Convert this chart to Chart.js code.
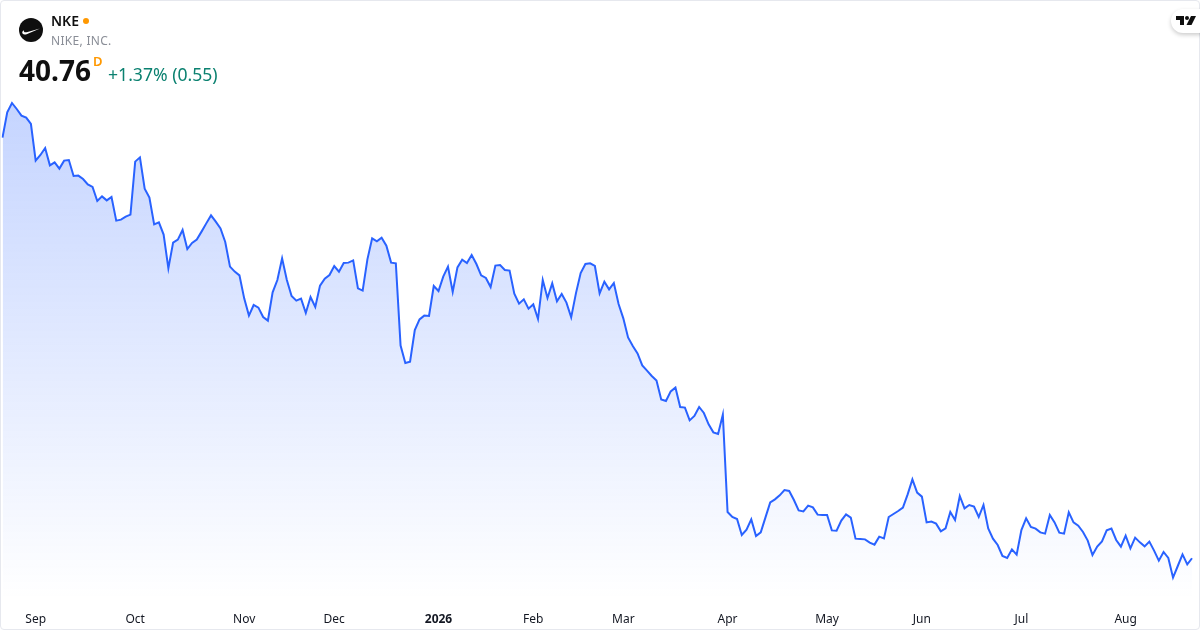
<!DOCTYPE html>
<html>
<head>
<meta charset="utf-8">
<title>NKE</title>
<script src="https://cdn.jsdelivr.net/npm/chart.js@4"></script>
<style>
  html, body { margin: 0; padding: 0; background: #fff; }
  body { width: 1200px; height: 630px; overflow: hidden; font-family: "Noto Sans", sans-serif; }
  #card { position: absolute; left: 0; top: 0; width: 1198px; height: 628px; border: 1px solid #e6e8ee; border-radius: 4px; overflow: hidden; }
  #wrap { position: absolute; left: -1px; top: -1px; width: 1200px; height: 630px; }
  .txt { position: absolute; white-space: nowrap; line-height: 1; }
  #logo { position: absolute; left: 19px; top: 18px; }
  #tv { position: absolute; left: 1171px; top: 9px; width: 40px; height: 24px; background: #fff; border-radius: 12px; box-shadow: 0 2px 4px rgba(0,0,0,.2); }
</style>
</head>
<body>
<div id="card">
  <div id="wrap"><canvas id="canvas" width="1200" height="630"></canvas></div>
</div>
<svg id="logo" width="24" height="24" viewBox="0 0 24 24">
  <circle cx="12" cy="12" r="12" fill="#0f0f0f"/>
  <path d="M3.2 14.6 C3.4 16.6 5.6 16.9 8.2 15.9 L21 10.6 L8.6 13.9 C6 14.6 4.4 14.3 5 12.2 C3.9 12.9 3.2 13.7 3.2 14.6 Z" fill="#fff"/>
</svg>
<div class="txt" style="left:51px;top:14px;font-size:14px;font-weight:600;color:#0f0f0f">NKE</div>
<div style="position:absolute;left:83px;top:18px;width:6px;height:6px;border-radius:3px;background:#ff9800"></div>
<div class="txt" style="left:51px;top:35px;font-size:12px;color:#8a8e97;letter-spacing:.3px">NIKE, INC.</div>
<div class="txt" style="left:19px;top:56px;font-size:28px;font-weight:700;color:#0f0f0f">40.76</div>
<div class="txt" style="left:93px;top:55px;font-size:13px;font-weight:600;color:#ff9800">D</div>
<div class="txt" style="left:108px;top:66px;font-size:17.6px;color:#0b8170">+1.37% (0.55)</div>
<div id="tv">
  <svg width="22" height="12" viewBox="0 0 22 12" style="position:absolute;left:5px;top:6px">
    <path d="M0 1 H8 V10 H4 V5 H0 Z" fill="#0f0f0f"/>
    <circle cx="11" cy="3" r="2" fill="#0f0f0f"/>
    <path d="M15 1 H20 L15.5 10 H10.5 Z" fill="#0f0f0f"/>
  </svg>
</div>
<script>
// closing prices, one per trading day
const prices = [
  74.41,76.43,77.18,76.70,76.17,76.01,75.50,72.57,73.02,73.58,72.19,72.43,71.93,72.57,72.62,71.34,
  71.37,71.10,70.67,70.46,69.34,69.71,69.39,69.66,67.77,67.85,68.09,68.25,72.49,72.83,70.33,69.61,
  67.47,67.63,66.65,63.95,66.01,66.25,67.02,65.50,65.98,66.25,66.89,67.55,68.19,67.69,67.15,66.06,
  64.09,63.69,63.39,61.55,60.17,61.02,60.81,60.06,59.77,62.03,63.02,64.75,63.02,61.74,61.37,61.53,
  60.38,61.66,60.86,62.57,63.13,63.42,64.14,63.69,64.38,64.41,64.59,62.35,62.17,64.67,66.35,66.11,
  66.41,65.77,64.41,64.35,57.77,56.38,56.49,59.02,59.87,60.17,60.14,62.54,62.14,63.29,64.09,62.06,
  64.03,64.65,64.38,65.02,64.30,63.39,63.18,62.46,64.17,64.22,63.82,63.77,61.93,61.13,61.47,60.73,
  61.07,59.90,63.02,61.58,62.75,61.31,61.90,61.21,60.03,61.95,63.58,64.30,64.35,64.14,61.95,62.89,
  62.27,62.78,61.10,59.95,58.43,57.74,57.15,56.19,55.77,55.34,54.97,53.47,53.34,54.11,54.41,52.86,
  52.81,51.79,52.14,52.86,52.38,51.47,50.83,50.70,52.25,44.46,44.06,43.90,42.62,43.05,43.87,42.54,
  42.83,44.03,45.23,45.47,45.79,46.22,46.14,45.42,44.59,44.51,44.97,44.83,44.25,44.22,44.22,42.99,
  42.97,43.77,44.27,44.01,42.33,42.30,42.27,42.01,41.85,42.49,42.35,44.06,44.30,44.54,44.81,45.87,
  47.07,46.01,45.69,43.63,43.69,43.53,42.91,43.15,44.46,43.82,45.74,44.75,45.02,44.89,44.06,45.02,
  43.15,42.33,41.82,40.94,40.78,41.47,41.05,43.02,43.95,43.26,43.13,42.83,42.73,44.22,43.63,42.81,
  42.73,44.43,43.63,43.37,42.86,42.17,41.02,41.69,42.11,42.99,43.13,42.22,41.69,42.57,41.55,42.41,
  42.03,41.71,42.09,41.37,40.57,41.26,40.78,39.21,40.14,41.07,40.27,40.76
];
// which trading day each month label sits on
const tickDays = [7, 28, 51, 70, 92, 112, 131, 153, 174, 194, 215, 237];
const tickLabels = ['Sep', 'Oct', 'Nov', 'Dec', '2026', 'Feb', 'Mar', 'Apr', 'May', 'Jun', 'Jul', 'Aug'];

const labels = prices.map((p, i) => {
  const k = tickDays.indexOf(i);
  return k >= 0 ? tickLabels[k] : '';
});

new Chart(document.getElementById('canvas'), {
  type: 'line',
  data: {
    labels: labels,
    datasets: [{
      data: prices,
      borderColor: '#2962ff',
      borderWidth: 2,
      pointRadius: 0,
      tension: 0,
      fill: 'start',
      backgroundColor: function (ctx) {
        const area = ctx.chart.chartArea;
        if (!area) return 'rgba(41,98,255,0.28)';
        const g = ctx.chart.ctx.createLinearGradient(0, 90, 0, 600);
        g.addColorStop(0, 'rgba(41,98,255,0.28)');
        g.addColorStop(1, 'rgba(41,98,255,0)');
        return g;
      }
    }]
  },
  options: {
    responsive: false,
    animation: false,
    layout: { padding: { left: 2.5, right: 8 } },
    plugins: { legend: { display: false }, tooltip: { enabled: false } },
    scales: {
      x: {
        grid: { display: false },
        border: { display: false },
        afterFit: axis => {
          axis.height = 30;
          axis.paddingLeft = 0;
          axis.paddingRight = 0;
        },
        ticks: {
          autoSkip: false,
          maxRotation: 0,
          padding: 4,
          color: '#131722',
          font: function (ctx) {
            const isYear = ctx.tick && ctx.tick.label === '2026';
            return { family: '"Noto Sans", sans-serif', size: 12, weight: isYear ? 'bold' : 'normal' };
          },
          callback: function (v, i) { return labels[i]; }
        }
      },
      y: { display: false, min: 37.42, max: 85.42 }
    }
  }
});
</script>
</body>
</html>
